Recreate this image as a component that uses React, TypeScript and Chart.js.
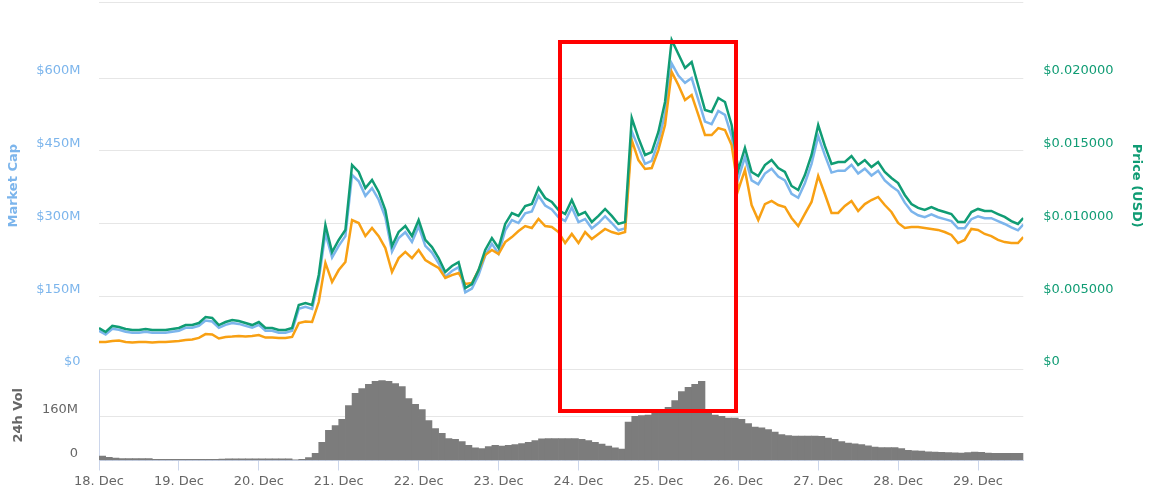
import React, { useEffect, useRef } from 'react';
import { Chart, registerables } from 'chart.js';

Chart.register(...registerables);

// ---------- data ----------
const dayLabels = ['18. Dec', '19. Dec', '20. Dec', '21. Dec', '22. Dec', '23. Dec', '24. Dec', '25. Dec', '26. Dec', '27. Dec', '28. Dec', '29. Dec'];
const capTicks = [0, 150, 300, 450, 600];
const priceTicks = [0, 0.005, 0.01, 0.015, 0.02];
const volTicks = [0, 160];

// hours since 18 Dec 00:00 (2-hour samples, last one at the final timestamp)
const lineHours = [...Array.from({ length: 139 }, (_, i) => i * 2), 277.6];

const priceUsd = [
  0.00282, 0.00254, 0.00296, 0.00289, 0.00275, 0.00268, 0.00268, 0.00275, 0.00268, 0.00268,
  0.00268, 0.00275, 0.00282, 0.00302, 0.00302, 0.00316, 0.00357, 0.00351, 0.00302, 0.00323,
  0.00337, 0.00330, 0.00316, 0.00302, 0.00323, 0.00282, 0.00282, 0.00268, 0.00268, 0.00282,
  0.00440, 0.00454, 0.00440, 0.00646, 0.00990, 0.00804, 0.00887, 0.00955, 0.01402, 0.01354,
  0.01244, 0.01299, 0.01217, 0.01093, 0.00845, 0.00942, 0.00983, 0.00914, 0.01024, 0.00887,
  0.00838, 0.00763, 0.00667, 0.00708, 0.00735, 0.00557, 0.00584, 0.00680, 0.00818, 0.00900,
  0.00832, 0.00997, 0.01072, 0.01052, 0.01120, 0.01134, 0.01244, 0.01175, 0.01148, 0.01093,
  0.01065, 0.01162, 0.01058, 0.01079, 0.01010, 0.01052, 0.01100, 0.01052, 0.00997, 0.01010,
  0.01725, 0.01588, 0.01471, 0.01491, 0.01629, 0.01835, 0.02261, 0.02165, 0.02069, 0.02110,
  0.01945, 0.01780, 0.01766, 0.01863, 0.01835, 0.01677, 0.01368, 0.01519, 0.01354, 0.01326,
  0.01402, 0.01436, 0.01381, 0.01354, 0.01258, 0.01230, 0.01333, 0.01471, 0.01677, 0.01533,
  0.01409, 0.01423, 0.01423, 0.01464, 0.01402, 0.01436, 0.01388, 0.01423, 0.01354, 0.01313,
  0.01278, 0.01196, 0.01134, 0.01107, 0.01093, 0.01113, 0.01093, 0.01079, 0.01065, 0.01010,
  0.01010, 0.01079, 0.01100, 0.01086, 0.01086, 0.01065, 0.01045, 0.01017, 0.00997, 0.01038,
];

const marketCapM = [
  79, 71, 83, 81, 77, 75, 75, 77, 75, 75,
  75, 77, 79, 85, 85, 89, 100, 98, 85, 91,
  95, 93, 89, 85, 91, 79, 79, 75, 75, 79,
  124, 128, 124, 184, 280, 230, 254, 274, 400, 387,
  357, 373, 349, 313, 242, 270, 282, 262, 294, 254,
  240, 218, 190, 202, 210, 158, 166, 194, 234, 258,
  238, 286, 307, 301, 321, 325, 357, 337, 329, 313,
  305, 333, 303, 309, 290, 301, 315, 301, 286, 290,
  490, 457, 423, 429, 469, 525, 630, 605, 590, 600,
  555, 510, 505, 532, 524, 480, 393, 437, 389, 381,
  403, 413, 397, 389, 361, 353, 383, 423, 480, 441,
  405, 409, 409, 421, 403, 413, 399, 409, 389, 377,
  367, 343, 325, 317, 313, 319, 313, 309, 305, 290,
  290, 309, 315, 311, 311, 305, 299, 292, 286, 298,
];

// price in satoshi (hidden axis)
const priceBtcSat = [
  14.0, 14.0, 14.5, 14.8, 14.0, 13.7, 14.0, 14.0, 13.7, 14.0,
  14.0, 14.3, 14.5, 15.0, 15.3, 16.1, 18.1, 17.9, 15.8, 16.6,
  16.8, 17.1, 16.8, 17.1, 17.6, 16.3, 16.3, 16.1, 16.1, 16.6,
  23.8, 24.6, 24.4, 34.7, 55.0, 45.1, 51.3, 55.5, 77.2, 75.7,
  68.9, 73.1, 68.9, 62.7, 50.3, 57.5, 60.7, 57.5, 61.7, 56.5,
  54.4, 52.4, 47.2, 48.7, 49.8, 44.1, 44.6, 51.3, 59.1, 61.7,
  59.6, 65.8, 68.4, 71.5, 74.1, 73.1, 77.8, 74.1, 73.6, 71.0,
  65.3, 70.0, 65.3, 71.0, 67.4, 70.0, 72.6, 71.0, 70.0, 71.0,
  118.7, 108.3, 103.7, 104.2, 113.5, 126.5, 154.0, 147.2, 139.4, 142.0,
  131.7, 121.3, 121.3, 124.9, 123.9, 116.1, 92.8, 103.2, 85.0, 77.2,
  85.5, 87.1, 85.0, 84.0, 78.3, 74.1, 80.4, 86.6, 100.1, 90.7,
  80.9, 80.9, 84.5, 87.1, 81.9, 85.5, 87.6, 89.2, 85.0, 81.4,
  75.7, 73.1, 73.6, 73.6, 73.1, 72.6, 72.1, 71.0, 69.5, 65.3,
  66.9, 72.6, 72.1, 70.0, 68.9, 66.9, 65.8, 65.3, 65.3, 68.4,
];

// 24h volume (millions USD), bars centred in 2-hour slots
const volHours = Array.from({ length: 139 }, (_, i) => i * 2 + 1);
const volumeM = [
  16, 12, 9, 7, 7, 7, 7, 7, 4, 4,
  4, 4, 4, 4, 4, 4, 4, 4, 5, 6.5,
  6.5, 6.5, 6.5, 6.5, 6.5, 6.5, 6.5, 6.5, 6.5, 2.5,
  4, 11, 26, 66, 110, 128, 150, 201, 245, 263,
  278, 289, 292, 289, 281, 270, 226, 205, 186, 146,
  117, 99, 80, 77, 69, 55, 46, 44, 51, 55,
  53, 55, 58, 62, 66, 73, 79, 80, 80, 80,
  80, 80, 77, 73, 66, 60, 53, 46, 42, 140,
  161, 164, 166, 172, 179, 194, 219, 252, 267, 278,
  289, 175, 166, 161, 155, 155, 150, 135, 122, 119,
  113, 104, 95, 91, 89, 89, 89, 89, 88, 82,
  77, 69, 64, 61, 58, 54, 49, 47, 47, 47,
  44, 37, 35, 34, 32, 31, 30, 29, 28, 27,
  29, 31, 30, 27, 26, 26, 26, 26, 26,
];

// ---------- styling ----------
const HOURS_MAX = 277.6;
const CAP_MAX = 755.7;
const PRICE_MAX = 0.025189;
const BTC_MAX = 190;
const VOL_MAX = 330.6;

const FONT = "'DejaVu Sans', 'Verdana', sans-serif";
const BLUE = '#7cb5ec';
const GREEN = '#109c74';
const ORANGE = '#f8a013';
const GRID = '#e6e6e6';
const AXIS = '#ccd6eb';
const GREY = '#666666';

const font = { family: FONT, size: 13 };
const bold = { family: FONT, size: 13, weight: 'bold' as const };

const pts = (ys: number[]) => lineHours.map((h, i) => ({ x: h, y: ys[i] }));

export default function App() {
  const topRef = useRef<HTMLCanvasElement | null>(null);
  const botRef = useRef<HTMLCanvasElement | null>(null);

  useEffect(() => {
    const lineBase = { pointRadius: 0, borderWidth: 2.5, tension: 0, fill: false };
    const top = new Chart(topRef.current as HTMLCanvasElement, {
      type: 'line',
      data: {
        datasets: [
          { label: 'Price (USD)', data: pts(priceUsd), yAxisID: 'yPrice', borderColor: GREEN, order: 0, ...lineBase },
          { label: 'Price (BTC)', data: pts(priceBtcSat), yAxisID: 'yBtc', borderColor: ORANGE, order: 1, ...lineBase },
          { label: 'Market Cap', data: pts(marketCapM), yAxisID: 'yCap', borderColor: BLUE, order: 2, ...lineBase },
        ],
      },
      options: {
        animation: false,
        responsive: false,
        devicePixelRatio: 1,
        layout: { padding: { top: 30.5, bottom: 30, left: 0, right: 0 } },
        plugins: { legend: { display: false }, tooltip: { enabled: false } },
        scales: {
          x: { type: 'linear', display: false, min: 0, max: HOURS_MAX },
          yCap: {
            position: 'left',
            min: 0,
            max: CAP_MAX,
            afterBuildTicks: (s: any) => { s.ticks = [...capTicks, CAP_MAX].map((v) => ({ value: v })); },
            afterFit: (s: any) => { s.width = 99; },
            grid: { color: GRID, drawTicks: false },
            border: { display: false },
            ticks: {
              color: BLUE, font, padding: 18.5, labelOffset: -7,
              callback: (v: any) => (v > 700 ? '' : v === 0 ? '$0' : '$' + v + 'M'),
            },
            title: { display: true, text: 'Market Cap', color: BLUE, font: bold, padding: { top: 6, bottom: 0 } },
          },
          yPrice: {
            position: 'right',
            min: 0,
            max: PRICE_MAX,
            afterBuildTicks: (s: any) => { s.ticks = [...priceTicks, PRICE_MAX].map((v) => ({ value: v })); },
            afterFit: (s: any) => { s.width = 126.7; },
            grid: { drawOnChartArea: false, drawTicks: false },
            border: { display: false },
            ticks: {
              color: GREEN, font, padding: 20, labelOffset: -7,
              callback: (v: any) => (v > 0.0225 ? '' : v === 0 ? '$0' : '$' + Number(v).toFixed(6)),
            },
            title: { display: true, text: 'Price (USD)', color: GREEN, font: bold, padding: { top: 5.5, bottom: 0 } },
          },
          yBtc: { display: false, min: 0, max: BTC_MAX },
        },
      } as any,
    });

    const bot = new Chart(botRef.current as HTMLCanvasElement, {
      type: 'bar',
      data: {
        datasets: [
          {
            label: '24h Vol',
            data: volHours.map((h, i) => ({ x: h, y: volumeM[i] })),
            yAxisID: 'yVol',
            backgroundColor: '#7c7c7c',
            borderWidth: 0,
            barPercentage: 1,
            categoryPercentage: 1,
          },
        ],
      },
      options: {
        animation: false,
        responsive: false,
        devicePixelRatio: 1,
        layout: { padding: { top: 32, bottom: 0, left: 0, right: 126.7 } },
        plugins: { legend: { display: false }, tooltip: { enabled: false } },
        scales: {
          x: {
            type: 'linear',
            min: 0,
            max: HOURS_MAX,
            offset: false,
            afterBuildTicks: (s: any) => { s.ticks = dayLabels.map((_, i) => ({ value: i * 24 })); },
            afterFit: (s: any) => { s.height = 39.5; },
            grid: { offset: false, drawOnChartArea: false, drawTicks: true, tickLength: 10, color: AXIS },
            border: { display: true, color: AXIS },
            ticks: {
              color: GREY, font, padding: 3, maxRotation: 0, autoSkip: false,
              callback: (v: any) => dayLabels[Math.round(v / 24)],
            },
          },
          yVol: {
            position: 'left',
            min: 0,
            max: VOL_MAX,
            afterBuildTicks: (s: any) => { s.ticks = [...volTicks, VOL_MAX].map((v) => ({ value: v })); },
            afterFit: (s: any) => { s.width = 99; },
            grid: { color: (ctx: any) => (ctx.tick && ctx.tick.value > 200 ? 'rgba(0,0,0,0)' : GRID), drawTicks: false },
            border: { display: true, color: AXIS },
            ticks: {
              color: GREY, font, padding: 21, labelOffset: -7,
              callback: (v: any) => (v === 0 ? '0' : v === 160 ? '160M' : ''),
            },
            title: { display: true, text: '24h Vol', color: GREY, font: bold, padding: { top: 11.2, bottom: 0 } },
          },
        },
      } as any,
    });

    return () => {
      top.destroy();
      bot.destroy();
    };
  }, []);

  return (
    <div style={{ position: 'absolute', left: 0, top: 0, width: 1150, height: 500, overflow: 'hidden', background: '#fff' }}>
      <canvas ref={topRef} width={1150} height={427} style={{ position: 'absolute', left: 0, top: -28, display: 'block' }} />
      <canvas ref={botRef} width={1150} height={162} style={{ position: 'absolute', left: 0, top: 338, display: 'block' }} />
      <div
        style={{
          position: 'absolute', left: 558, top: 40, width: 180, height: 373,
          border: '4px solid #ff0000', boxSizing: 'border-box', pointerEvents: 'none',
        }}
      />
    </div>
  );
}
